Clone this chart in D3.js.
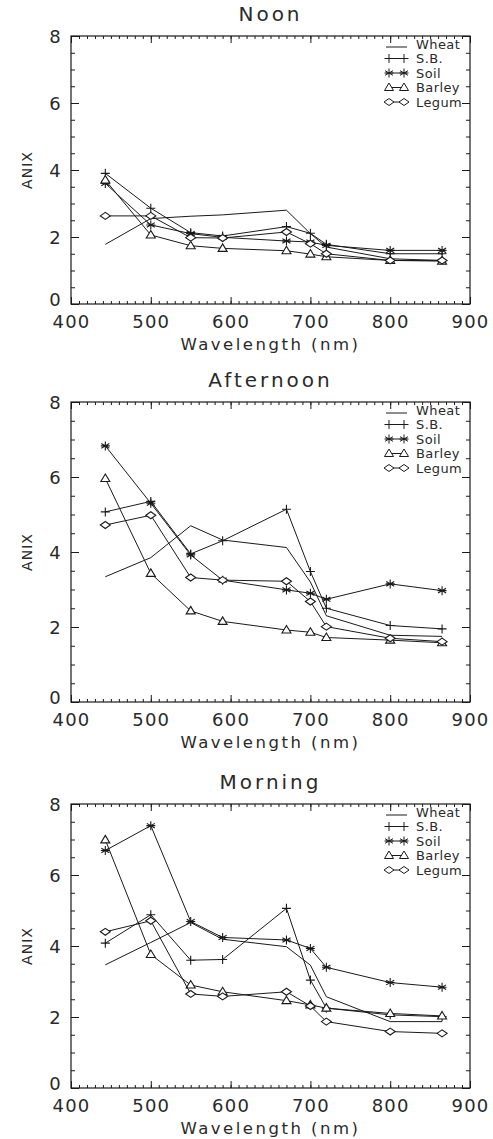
<!DOCTYPE html>
<html>
<head>
<meta charset="utf-8">
<script src="https://cdn.jsdelivr.net/npm/d3@7"></script>
<style>
  body { margin: 0; background: #fff; }
  svg { display: block; font-family: "DejaVu Sans", sans-serif; }
</style>
</head>
<body>
<svg id="chart"></svg>
<script>
// wavelengths (nm) shared by every series
const wavelengths = [443, 500, 550, 590, 670, 700, 720, 800, 865];
const seriesNames = ["Wheat", "S.B.", "Soil", "Barley", "Legum"];
const panelTitles = ["Noon", "Afternoon", "Morning"];
const xTicks = [400, 500, 600, 700, 800, 900];
const yTicks = [0, 2, 4, 6, 8];

// Noon
const noonWheat  = [1.78, 2.55, 2.62, 2.66, 2.80, 2.10, 1.70, 1.35, 1.30];
const noonSB     = [3.90, 2.86, 2.13, 2.03, 2.31, 2.11, 1.78, 1.50, 1.50];
const noonSoil   = [3.60, 2.36, 2.10, 1.99, 1.88, 1.85, 1.75, 1.60, 1.60];
const noonBarley = [3.70, 2.06, 1.74, 1.66, 1.59, 1.49, 1.41, 1.30, 1.28];
const noonLegum  = [2.63, 2.63, 1.98, 1.97, 2.15, 1.80, 1.50, 1.30, 1.30];

// Afternoon
const aftWheat  = [3.34, 3.85, 4.70, 4.32, 4.12, 3.20, 2.30, 1.78, 1.75];
const aftSB     = [5.07, 5.35, 3.95, 4.30, 5.14, 3.48, 2.50, 2.04, 1.95];
const aftSoil   = [6.83, 5.30, 3.92, 3.25, 2.99, 2.90, 2.74, 3.15, 2.97];
const aftBarley = [5.96, 3.43, 2.43, 2.15, 1.92, 1.86, 1.72, 1.65, 1.58];
const aftLegum  = [4.72, 4.98, 3.32, 3.25, 3.22, 2.68, 2.01, 1.70, 1.61];

// Morning
const mornWheat  = [3.47, 4.10, 4.66, 4.19, 3.98, 3.46, 2.57, 1.87, 1.87];
const mornSB     = [4.08, 4.88, 3.60, 3.62, 5.06, 3.04, 2.25, 2.06, 2.01];
const mornSoil   = [6.69, 7.39, 4.69, 4.24, 4.17, 3.93, 3.40, 2.97, 2.84];
const mornBarley = [6.99, 3.76, 2.90, 2.71, 2.46, 2.34, 2.25, 2.10, 2.03];
const mornLegum  = [4.40, 4.71, 2.65, 2.58, 2.71, 2.31, 1.87, 1.59, 1.54];

const panelData = [
  [noonWheat, noonSB, noonSoil, noonBarley, noonLegum],
  [aftWheat, aftSB, aftSoil, aftBarley, aftLegum],
  [mornWheat, mornSB, mornSoil, mornBarley, mornLegum]
];
const markerTypes = [null, "plus", "star", "triangle", "diamond"];

// layout
const W = 493, H = 1139;
const left = 71, right = 470;
const panelTops = [36, 402, 804];
const panelBottoms = [304, 702, 1088];
const ink = "#1a1a1a";
const textInk = "#2a2a2a";

function markerPath(type) {
    if (type == "plus") return "M-4.5,0H4.5M0,-4.5V4.5";
    if (type == "star") return "M0,-4.5V4.5M-4,-2.3L4,2.3M-4,2.3L4,-2.3M-4.5,0H4.5";
    if (type == "triangle") return "M0,-4.5L4.5,3L-4.5,3Z";
    if (type == "diamond") return "M-5,0L0,-3.5L5,0L0,3.5Z";
    return "";
}

const svg = d3.select("#chart")
    .attr("width", W)
    .attr("height", H);

svg.append("rect").attr("width", W).attr("height", H).attr("fill", "#fff");

const x = d3.scaleLinear().domain([400, 900]).range([left, right]);
const xMinor = d3.range(400, 901, 10);
const yMinor = d3.range(0, 8.01, 0.5);

panelTitles.forEach((title, p) => {
    const top = panelTops[p], bottom = panelBottoms[p];
    const y = d3.scaleLinear().domain([0, 8]).range([bottom, top]);
    const g = svg.append("g");

    // title
    g.append("text")
        .attr("x", (left + right) / 2)
        .attr("y", top - 15)
        .attr("text-anchor", "middle")
        .attr("font-size", 20)
        .attr("letter-spacing", 3)
        .attr("fill", textInk)
        .text(title);

    // minor ticks on all four sides
    const minorAxes = [
        [d3.axisBottom(x).tickValues(xMinor).tickSize(-3), `translate(0,${bottom})`],
        [d3.axisTop(x).tickValues(xMinor).tickSize(-3), `translate(0,${top})`],
        [d3.axisLeft(y).tickValues(yMinor).tickSize(-4), `translate(${left},0)`],
        [d3.axisRight(y).tickValues(yMinor).tickSize(-4), `translate(${right},0)`]
    ];
    minorAxes.forEach(([ax, tr]) => {
        const a = g.append("g").attr("transform", tr).call(ax.tickFormat(""));
        a.select(".domain").remove();
        a.selectAll("line").attr("stroke", ink);
    });

    // major ticks + labels
    const xb = g.append("g").attr("transform", `translate(0,${bottom})`)
        .call(d3.axisBottom(x).tickValues(xTicks).tickSize(-7).tickFormat(d3.format("d")));
    const xt = g.append("g").attr("transform", `translate(0,${top})`)
        .call(d3.axisTop(x).tickValues(xTicks).tickSize(-7).tickFormat(""));
    const yl = g.append("g").attr("transform", `translate(${left},0)`)
        .call(d3.axisLeft(y).tickValues(yTicks).tickSize(-8).tickFormat(d3.format("d")));
    const yr = g.append("g").attr("transform", `translate(${right},0)`)
        .call(d3.axisRight(y).tickValues(yTicks).tickSize(-8).tickFormat(""));
    [xb, xt, yl, yr].forEach(a => {
        a.select(".domain").remove();
        a.selectAll("line").attr("stroke", ink);
        a.selectAll("text")
            .attr("font-size", 18)
            .attr("letter-spacing", 1.2)
            .attr("fill", textInk)
            .attr("font-family", "DejaVu Sans, sans-serif");
    });
    xb.selectAll("text").attr("y", 11).attr("dy", "0.71em");
    yl.selectAll("text")
        .attr("x", -9)
        .attr("dy", d => d == 0 ? "0.1em" : "0.36em");

    // frame
    g.append("rect")
        .attr("x", left).attr("y", top)
        .attr("width", right - left).attr("height", bottom - top)
        .attr("fill", "none").attr("stroke", ink).attr("stroke-width", 1.2);

    // axis titles
    g.append("text")
        .attr("x", (left + right) / 2)
        .attr("y", bottom + 46)
        .attr("text-anchor", "middle")
        .attr("font-size", 16.5)
        .attr("letter-spacing", 2.5)
        .attr("fill", textInk)
        .text("Wavelength (nm)");
    g.append("text")
        .attr("transform", `translate(32,${(top + bottom) / 2}) rotate(-90)`)
        .attr("text-anchor", "middle")
        .attr("font-size", 14)
        .attr("letter-spacing", 1)
        .attr("fill", textInk)
        .text("ANIX");

    // series
    const line = d3.line().x((d, i) => x(wavelengths[i])).y(d => y(d));
    panelData[p].forEach((vals, s) => {
        g.append("path")
            .attr("d", line(vals))
            .attr("fill", "none")
            .attr("stroke", ink)
            .attr("stroke-width", 1);
        if (markerTypes[s]) {
            g.selectAll(null)
                .data(vals)
                .enter()
                .append("path")
                .attr("transform", (d, i) => `translate(${x(wavelengths[i])},${y(d)})`)
                .attr("d", markerPath(markerTypes[s]))
                .attr("fill", markerTypes[s] == "star" || markerTypes[s] == "plus" ? "none" : "#fff")
                .attr("stroke", ink)
                .attr("stroke-width", 1.1);
        }
    });

    // legend
    const rowOffsets = [8, 22.5, 37, 51.5, 66];
    seriesNames.forEach((name, s) => {
        const ly = top + rowOffsets[s];
        const lg = g.append("g");
        lg.append("line")
            .attr("x1", 386).attr("x2", 407)
            .attr("y1", ly + (s == 0 ? 3 : 0)).attr("y2", ly + (s == 0 ? 3 : 0))
            .attr("stroke", ink);
        if (markerTypes[s]) {
            [389, 404].forEach(mx => {
                lg.append("path")
                    .attr("transform", `translate(${mx},${ly})`)
                    .attr("d", markerPath(markerTypes[s]))
                    .attr("fill", markerTypes[s] == "star" || markerTypes[s] == "plus" ? "none" : "#fff")
                    .attr("stroke", ink);
            });
        }
        lg.append("text")
            .attr("x", 416)
            .attr("y", ly)
            .attr("dy", "0.35em")
            .attr("font-size", 13)
            .attr("letter-spacing", 0.4)
            .attr("fill", textInk)
            .text(name);
    });
});
</script>
</body>
</html>
